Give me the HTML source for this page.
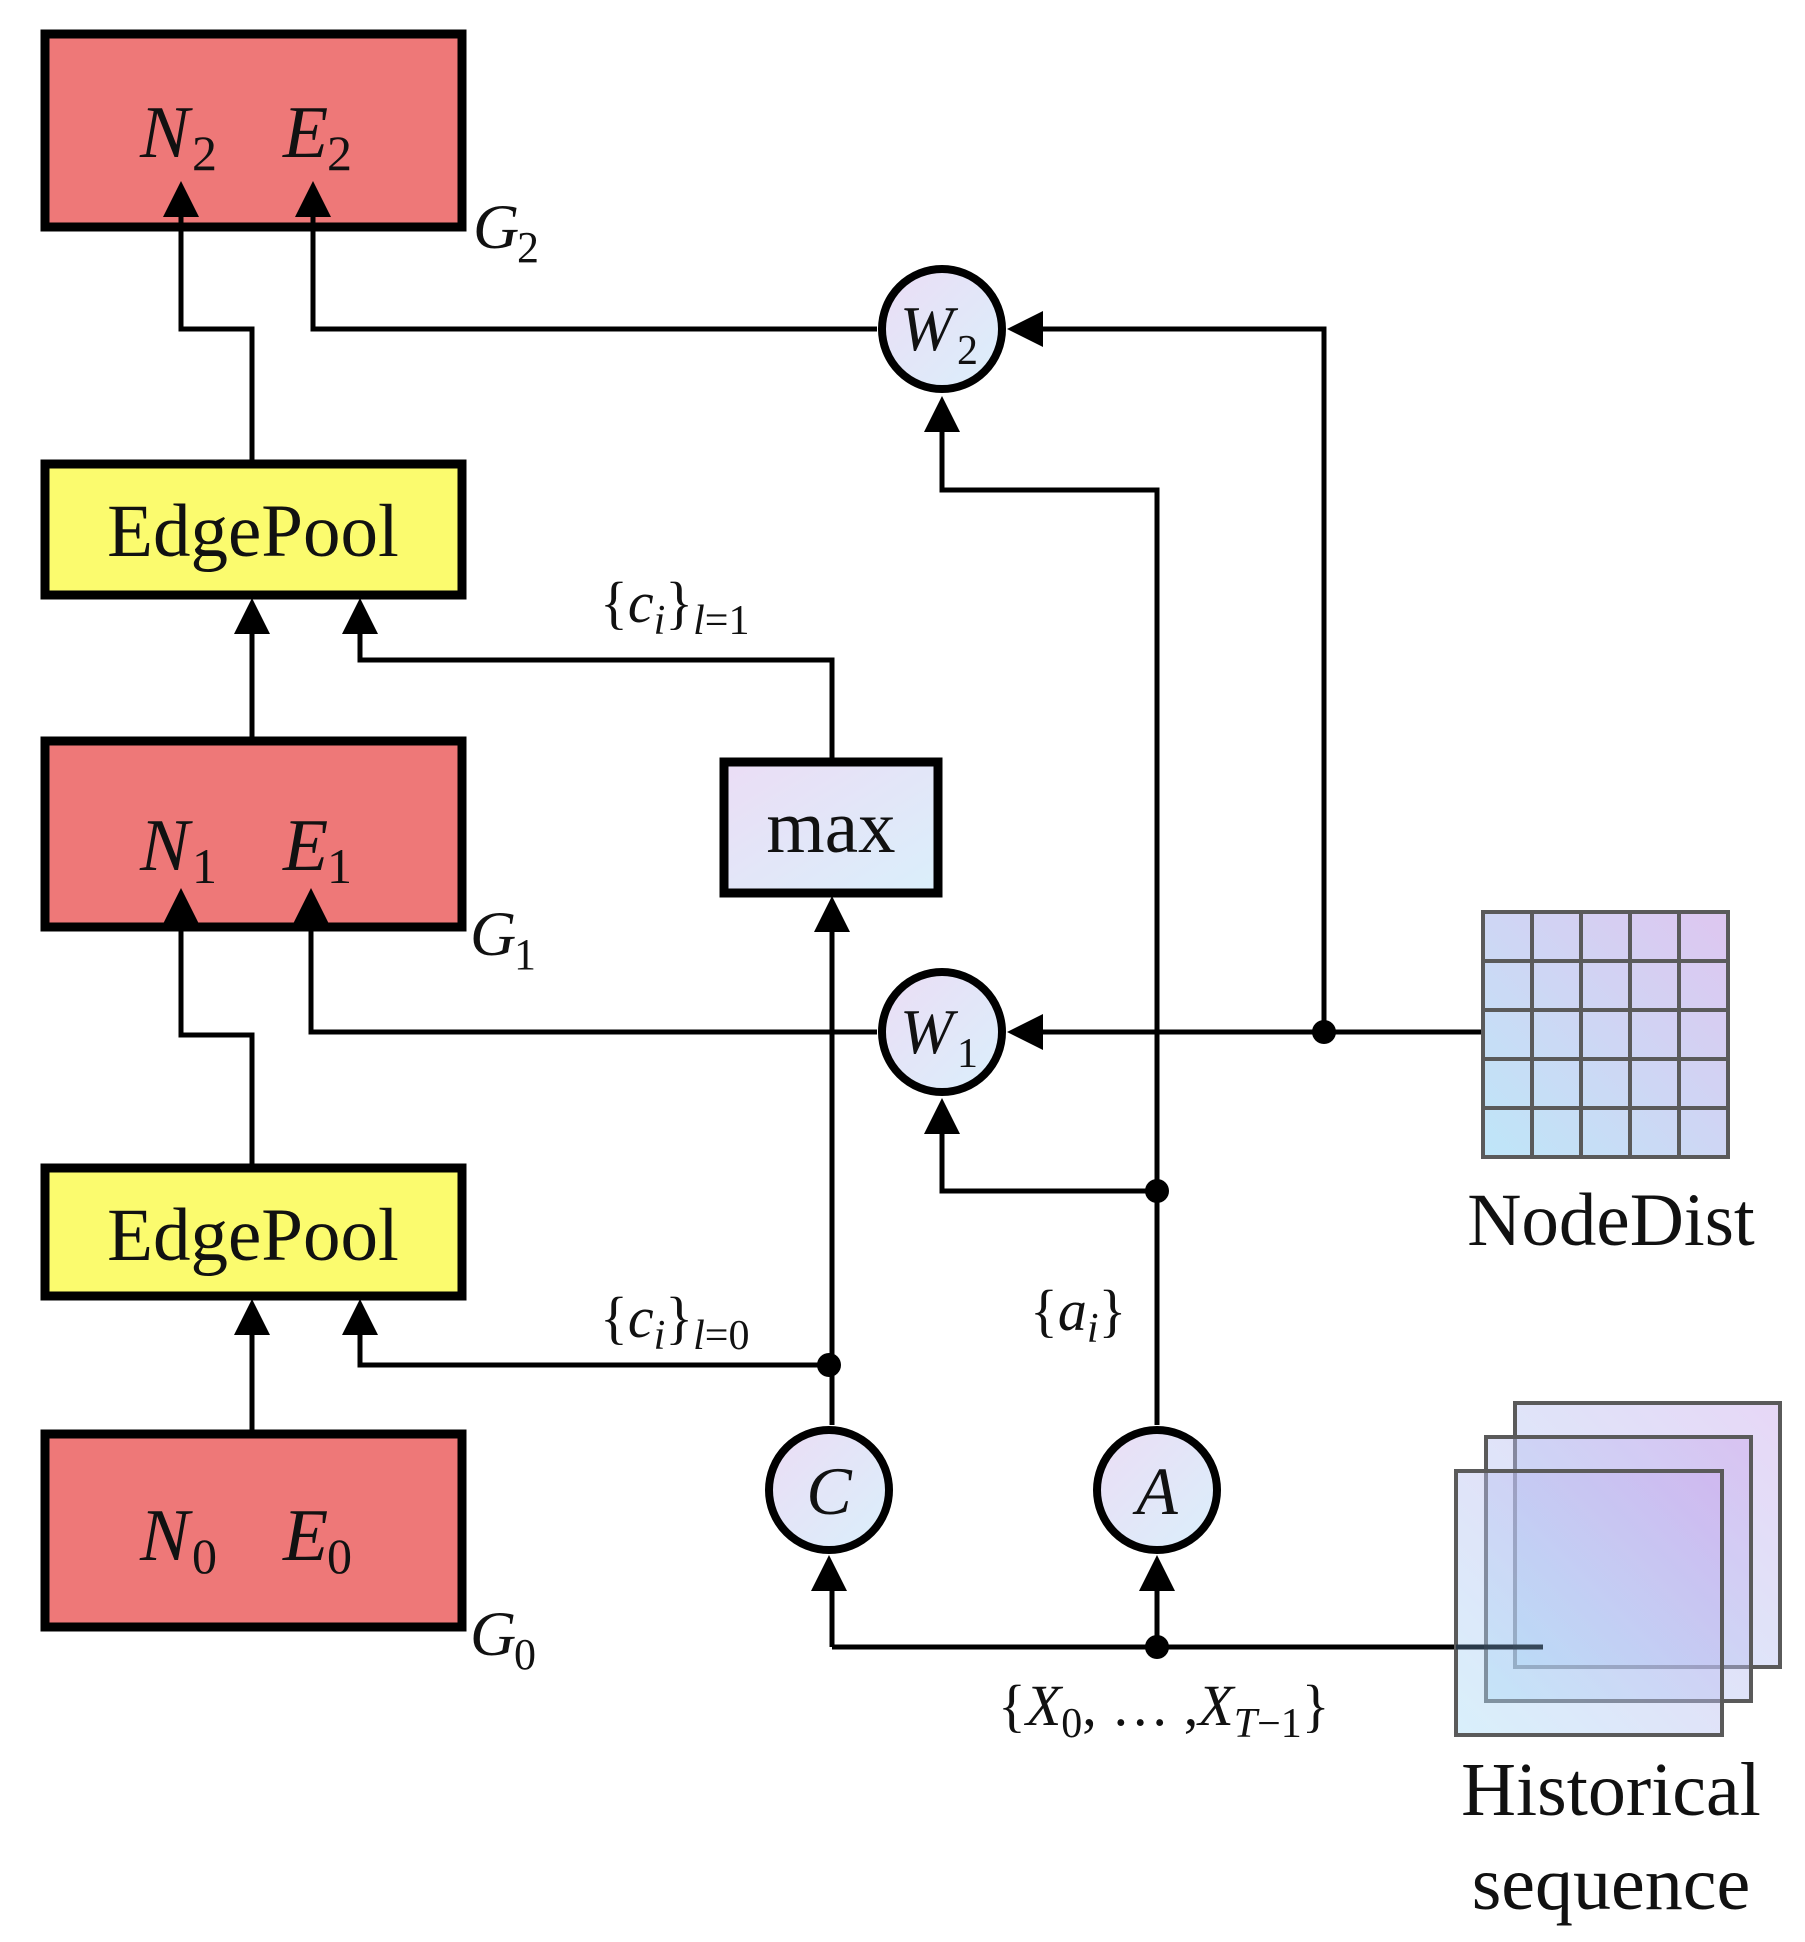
<!DOCTYPE html>
<html><head><meta charset="utf-8"><style>
html,body{margin:0;padding:0;background:#fff}
svg{display:block}
text{font-family:"Liberation Serif",serif;fill:#111}
.it{font-style:italic}
</style></head><body>
<svg width="1805" height="1942" viewBox="0 0 1805 1942" xmlns="http://www.w3.org/2000/svg">
<defs>
<linearGradient id="lav" x1="0" y1="0" x2="1" y2="1">
<stop offset="0" stop-color="#EBDDF5"/><stop offset="1" stop-color="#DAEFFB"/></linearGradient>
<linearGradient id="grid" x1="0" y1="1" x2="1" y2="0">
<stop offset="0" stop-color="#BEE6F8"/><stop offset="1" stop-color="#DEC6F0"/></linearGradient>
<linearGradient id="fr" x1="0" y1="1" x2="1" y2="0">
<stop offset="0" stop-color="#A9DDF6" stop-opacity="0.45"/><stop offset="1" stop-color="#C9A6EC" stop-opacity="0.45"/></linearGradient>
</defs>

<!-- Boxes -->
<rect x="45" y="34" width="417" height="193" fill="#EE7878" stroke="#000" stroke-width="9"/>
<rect x="45" y="464" width="417" height="131" fill="#FBFB6E" stroke="#000" stroke-width="9"/>
<rect x="45" y="741" width="417" height="186" fill="#EE7878" stroke="#000" stroke-width="9"/>
<rect x="45" y="1168" width="417" height="128" fill="#FBFB6E" stroke="#000" stroke-width="9"/>
<rect x="45" y="1434" width="417" height="193" fill="#EE7878" stroke="#000" stroke-width="9"/>
<rect x="724" y="762" width="214" height="131" fill="url(#lav)" stroke="#000" stroke-width="9"/>

<!-- connectors -->
<g stroke="#000" stroke-width="5" fill="none">
<polyline points="252,464 252,329 181,329 181,212"/>
<polyline points="877,329 313,329 313,212"/>
<line x1="252" y1="741" x2="252" y2="630"/>
<polyline points="832,762 832,660 360,660 360,630"/>
<polyline points="252,1168 252,1035 181,1035 181,918"/>
<polyline points="877,1032 311,1032 311,918"/>
<line x1="252" y1="1434" x2="252" y2="1330"/>
<polyline points="829,1365 360,1365 360,1330"/>
<line x1="832" y1="1425" x2="832" y2="930"/>
<polyline points="1157,1425 1157,490 942,490 942,430"/>
<polyline points="1157,1191 942,1191 942,1134"/>
<line x1="1483" y1="1032" x2="1040" y2="1032"/>
<polyline points="1324,1032 1324,329 1040,329"/>
<line x1="832" y1="1647" x2="1543" y2="1647"/>
<line x1="832" y1="1647" x2="832" y2="1590"/>
<line x1="1157" y1="1647" x2="1157" y2="1590"/>
</g>

<!-- arrowheads -->
<g fill="#000">
<polygon points="181,181 163,217 199,217"/>
<polygon points="313,181 295,217 331,217"/>
<polygon points="252,598 234,634 270,634"/>
<polygon points="360,598 342,634 378,634"/>
<polygon points="181,888 163,924 199,924"/>
<polygon points="311,888 293,924 329,924"/>
<polygon points="252,1299 234,1335 270,1335"/>
<polygon points="360,1299 342,1335 378,1335"/>
<polygon points="832,896 814,932 850,932"/>
<polygon points="942,396 924,432 960,432"/>
<polygon points="942,1098 924,1134 960,1134"/>
<polygon points="829,1555 811,1591 847,1591"/>
<polygon points="1157,1555 1139,1591 1175,1591"/>
<polygon points="1007,329 1043,311 1043,347"/>
<polygon points="1007,1032 1043,1014 1043,1050"/>
<circle cx="1324" cy="1032" r="12"/>
<circle cx="1157" cy="1191" r="12"/>
<circle cx="829" cy="1365" r="12"/>
<circle cx="1157" cy="1647" r="12"/>
</g>

<!-- circles -->
<g stroke="#000" stroke-width="8" fill="url(#lav)">
<circle cx="942" cy="329" r="60"/>
<circle cx="942" cy="1032" r="60"/>
<circle cx="829" cy="1490" r="60"/>
<circle cx="1157" cy="1490" r="60"/>
</g>
<text x="900" y="350" font-size="64" class="it">W</text><text x="957" y="364" font-size="42">2</text>
<text x="900" y="1053" font-size="64" class="it">W</text><text x="957" y="1067" font-size="42">1</text>
<text x="829" y="1514" font-size="68" class="it" text-anchor="middle">C</text>
<text x="1157" y="1514" font-size="68" class="it" text-anchor="middle">A</text>

<!-- box labels -->
<g font-size="74" class="it">
<text x="140" y="157">N</text><text x="283" y="157">E</text>
<text x="140" y="870">N</text><text x="283" y="870">E</text>
<text x="140" y="1560">N</text><text x="283" y="1560">E</text>
</g>
<g font-size="50">
<text x="192" y="170">2</text><text x="327" y="170">2</text>
<text x="192" y="883">1</text><text x="327" y="883">1</text>
<text x="192" y="1573">0</text><text x="327" y="1573">0</text>
</g>
<text x="253" y="556" font-size="75" text-anchor="middle">EdgePool</text>
<text x="253" y="1260" font-size="75" text-anchor="middle">EdgePool</text>
<text x="831" y="852" font-size="75" text-anchor="middle">max</text>

<!-- G labels -->
<text x="473" y="248" font-size="64" class="it">G</text><text x="517" y="262" font-size="44">2</text>
<text x="470" y="955" font-size="64" class="it">G</text><text x="514" y="969" font-size="44">1</text>
<text x="470" y="1655" font-size="64" class="it">G</text><text x="514" y="1669" font-size="44">0</text>

<!-- edge labels -->
<text x="600" y="622" font-size="58">{<tspan class="it">c</tspan><tspan class="it" font-size="42" dy="12">i</tspan><tspan dy="-12">}</tspan><tspan class="it" font-size="42" dy="12">l</tspan><tspan font-size="42">=1</tspan></text>
<text x="600" y="1337" font-size="58">{<tspan class="it">c</tspan><tspan class="it" font-size="42" dy="12">i</tspan><tspan dy="-12">}</tspan><tspan class="it" font-size="42" dy="12">l</tspan><tspan font-size="42">=0</tspan></text>
<text x="1030" y="1330" font-size="58">{<tspan class="it">a</tspan><tspan class="it" font-size="42" dy="12">i</tspan><tspan dy="-12">}</tspan></text>
<text x="998" y="1725" font-size="58">{<tspan class="it">X</tspan><tspan font-size="42" dy="12">0</tspan><tspan dy="-12">, … ,</tspan><tspan class="it">X</tspan><tspan class="it" font-size="42" dy="12">T</tspan><tspan font-size="42">−1</tspan><tspan dy="-12">}</tspan></text>

<!-- NodeDist grid -->
<rect x="1483" y="912" width="245" height="245" fill="url(#grid)"/>
<g stroke="#5a5a5a" stroke-width="4" fill="none">
<rect x="1483" y="912" width="245" height="245"/>
<line x1="1532" y1="912" x2="1532" y2="1157"/><line x1="1581" y1="912" x2="1581" y2="1157"/>
<line x1="1630" y1="912" x2="1630" y2="1157"/><line x1="1679" y1="912" x2="1679" y2="1157"/>
<line x1="1483" y1="961" x2="1728" y2="961"/><line x1="1483" y1="1010" x2="1728" y2="1010"/>
<line x1="1483" y1="1059" x2="1728" y2="1059"/><line x1="1483" y1="1108" x2="1728" y2="1108"/>
</g>
<text x="1611" y="1245" font-size="75" text-anchor="middle">NodeDist</text>

<!-- Historical frames -->
<g stroke="#5a5a5a" stroke-width="4" fill="url(#fr)">
<rect x="1515" y="1403" width="265" height="264"/>
<rect x="1486" y="1437" width="265" height="264"/>
<rect x="1456" y="1471" width="266" height="264"/>
</g>
<line x1="1456" y1="1647" x2="1543" y2="1647" stroke="#203040" stroke-width="5" opacity="0.8"/>
<text x="1611" y="1815" font-size="76" text-anchor="middle">Historical</text>
<text x="1611" y="1909" font-size="76" text-anchor="middle">sequence</text>
</svg>
</body></html>
